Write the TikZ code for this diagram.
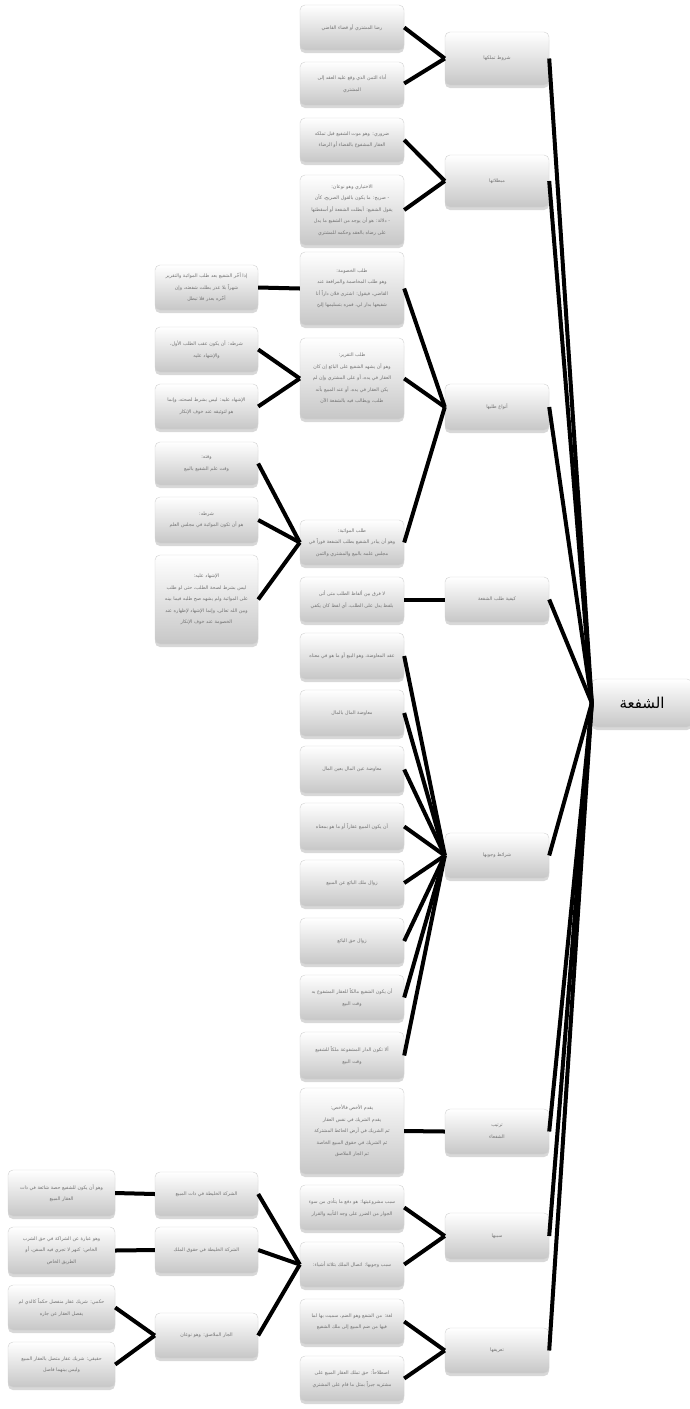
\documentclass[tikz,border=0pt]{standalone}
\usepackage{fontspec}
\usepackage{tikz}
\usetikzlibrary{shadows}
\TeXXeTstate=1
\newfontfamily\arabicfont[Script=Arabic]{DejaVu Sans}
\newcommand\arfont{\arabicfont\fontsize{4.8}{11.5}\selectfont}
\newcommand\arline[1]{\beginR #1\endR}

\begin{document}
\begin{tikzpicture}[x=1pt, y=-1pt,
    box/.style={draw=black!18, rounded corners=5pt, top color=white, bottom color=black!22,
                text=black!55, font=\arfont, align=center, text width=96pt,
                inner xsep=4pt, inner ysep=2pt,
                drop shadow={shadow xshift=0pt, shadow yshift=-3pt, fill=black!30}},
    midbox/.style={box, text width=95pt},
    farbox/.style={box, text width=99pt},
    rootbox/.style={box, text=black, font=\arabicfont\fontsize{15}{18}\selectfont,
                    text width=92pt, minimum height=48pt},
    link/.style={line width=4pt, black}]
  \path[use as bounding box, fill=white] (0,0) rectangle (689,1409);

  % root and first level
  \node[rootbox] (root) at (642,703) {\arline{الشفعة}};
  \node[box, minimum height=53pt] (tamalluk) at (497,58.5) {\arline{شروط تملكها}};
  \node[box, minimum height=52pt] (mubtilat) at (497,181) {\arline{مبطلاتها}};
  \node[box, minimum height=46pt] (anwa) at (497,407) {\arline{أنواع طلبها}};
  \node[box, minimum height=45pt] (kayfiya) at (497,599.5) {\arline{كيفية طلب الشفعة}};
  \node[box, minimum height=45pt] (sharait) at (497,855.5) {\arline{شرائط وجوبها}};
  \node[box, minimum height=45pt] (tartib) at (497,1131.5) {\arline{ترتيب}\\\arline{الشفعاء}};
  \node[box, minimum height=46pt] (sabab) at (497,1236) {\arline{سببها}};
  \node[box, minimum height=45pt] (tarif) at (497,1350.5) {\arline{تعريفها}};

  % second level
  \node[box, minimum height=45pt] (rida) at (352,27.5) {\arline{رضا المشتري أو قضاء القاضي}};
  \node[box, minimum height=43pt] (ada) at (352,83.5) {\arline{أداء الثمن الذي وقع عليه العقد إلى}\\\arline{المشتري}};
  \node[box, minimum height=44pt] (daruri) at (352,140) {\arline{ضروري: وهو موت الشفيع قبل تملكه}\\\arline{العقار المشفوع بالقضاء أو الرضاء}};
  \node[box, minimum height=70pt] (ikhtiyari) at (352,210) {\arline{الاختياري وهو نوعان:}\\\arline{- صريح: ما يكون بالقول الصريح، كأن}\\\arline{يقول الشفيع: أبطلت الشفعة أو أسقطتها}\\\arline{- دلالة: هو أن يوجد من الشفيع ما يدل}\\\arline{على رضاه بالعقد وحكمه للمشتري}};
  \node[box, minimum height=73pt] (khusuma) at (352,288.5) {\arline{طلب الخصومة:}\\\arline{وهو طلب المخاصمة والمرافعة عند}\\\arline{القاضي، فيقول: اشترى فلان داراً أنا}\\\arline{شفيعها بدار لي، فمره بتسليمها إليّ}};
  \node[box, minimum height=81pt] (taqrir) at (352,378.5) {\arline{طلب التقرير:}\\\arline{وهو أن يشهد الشفيع على البائع إن كان}\\\arline{العقار في يده، أو على المشتري وإن لم}\\\arline{يكن العقار في يده، أو عند المبيع بأنه}\\\arline{طلب، ويطالب فيه بالشفعة الآن}};
  \node[box, minimum height=45pt] (muwathaba) at (352,542.5) {\arline{طلب المواثبة:}\\\arline{وهو أن يبادر الشفيع بطلب الشفعة فوراً في}\\\arline{مجلس علمه بالبيع والمشتري والثمن}};
  \node[box, minimum height=45pt] (lafarq) at (352,599.5) {\arline{لا فرق بين ألفاظ الطلب متى أتى}\\\arline{بلفظ يدل على الطلب، أي لفظ كان يكفي}};
  \node[box, minimum height=46pt] (aqd) at (352,656) {\arline{عقد المعاوضة، وهو البيع أو ما هو في معناه}};
  \node[box, minimum height=46pt] (muawada) at (352,713) {\arline{معاوضة المال بالمال}};
  \node[box, minimum height=47pt] (ayn) at (352,769.5) {\arline{معاوضة عين المال بعين المال}};
  \node[box, minimum height=47pt] (aqar) at (352,826.5) {\arline{أن يكون المبيع عقاراً أو ما هو بمعناه}};
  \node[box, minimum height=46pt] (zawalmilk) at (352,883) {\arline{زوال ملك البائع عن المبيع}};
  \node[box, minimum height=46pt] (zawalhaqq) at (352,941) {\arline{زوال حق البائع}};
  \node[box, minimum height=45pt] (malikan) at (352,997.5) {\arline{أن يكون الشفيع مالكاً للعقار المشفوع به}\\\arline{وقت البيع}};
  \node[box, minimum height=47pt] (lamilk) at (352,1055.5) {\arline{ألا تكون الدار المشفوعة ملكاً للشفيع}\\\arline{وقت البيع}};
  \node[box, minimum height=86pt] (akhass) at (352,1131) {\arline{يقدم الأخص فالأخص:}\\\arline{يقدم الشريك في نفس العقار}\\\arline{ثم الشريك في أرض الحائط المشتركة}\\\arline{ثم الشريك في حقوق المبيع الخاصة}\\\arline{ثم الجار الملاصق}};
  \node[box, minimum height=45pt] (mashruiya) at (352,1207.5) {\arline{سبب مشروعيتها: هو دفع ما يتأذى من سوء}\\\arline{الجوار من الضرر على وجه التأبيد والقرار}};
  \node[box, minimum height=45pt] (wujub) at (352,1264.5) {\arline{سبب وجوبها: اتصال الملك بثلاثة أشياء:}};
  \node[box, minimum height=45pt] (lugha) at (352,1321.5) {\arline{لغة: من الشفع وهو الضم، سميت بها لما}\\\arline{فيها من ضم المبيع إلى ملك الشفيع}};
  \node[box, minimum height=45pt] (istilah) at (352,1378.5) {\arline{اصطلاحاً: حق تملك العقار المبيع على}\\\arline{مشتريه جبراً بمثل ما قام على المشتري}};

  % third level
  \node[midbox, minimum height=45pt] (takhir) at (206.5,287.5) {\arline{إذا أخّر الشفيع بعد طلب المواثبة والتقرير}\\\arline{شهراً بلا عذر بطلت شفعته، وإن}\\\arline{أخّره بعذر فلا تبطل}};
  \node[midbox, minimum height=45pt] (shartTaqrir) at (206.5,349.5) {\arline{شرطه: أن يكون عقب الطلب الأول،}\\\arline{والإشهاد عليه}};
  \node[midbox, minimum height=45pt] (ishhadTaqrir) at (206.5,406.5) {\arline{الإشهاد عليه: ليس بشرط لصحته، وإنما}\\\arline{هو لتوثيقه عند خوف الإنكار}};
  \node[midbox, minimum height=43pt] (waqt) at (206.5,463.5) {\arline{وقته:}\\\arline{وقت علم الشفيع بالبيع}};
  \node[midbox, minimum height=46pt] (shartMuw) at (206.5,520) {\arline{شرطه:}\\\arline{هو أن تكون المواثبة في مجلس العلم}};
  \node[midbox, minimum height=89pt] (ishhadMuw) at (206.5,599.5) {\arline{الإشهاد عليه:}\\\arline{ليس بشرط لصحة الطلب، حتى لو طلب}\\\arline{على المواثبة ولم يشهد صح طلبه فيما بينه}\\\arline{وبين الله تعالى، وإنما الإشهاد لإظهاره عند}\\\arline{الخصومة عند خوف الإنكار}};
  \node[midbox, minimum height=44pt] (khalitDhat) at (206.5,1194) {\arline{الشركة الخليطة في ذات المبيع}};
  \node[midbox, minimum height=46pt] (khalitHuquq) at (206.5,1250) {\arline{الشركة الخليطة في حقوق الملك}};
  \node[midbox, minimum height=45pt] (jar) at (206.5,1335.5) {\arline{الجار الملاصق: وهو نوعان}};

  % fourth level
  \node[farbox, minimum height=46pt] (hissa) at (61.5,1193) {\arline{وهو أن يكون للشفيع حصة شائعة في ذات}\\\arline{العقار المبيع}};
  \node[farbox, minimum height=47pt] (shirb) at (61.5,1250.5) {\arline{وهو عبارة عن الشراكة في حق الشرب}\\\arline{الخاص: كنهر لا تجري فيه السفن، أو}\\\arline{الطريق الخاص}};
  \node[farbox, minimum height=45pt] (hukmi) at (61.5,1307.5) {\arline{حكمي: شريك عقار منفصل حكماً كالذي لم}\\\arline{يفصل العقار عن جاره}};
  \node[farbox, minimum height=45pt] (haqiqi) at (61.5,1364.5) {\arline{حقيقي: شريك عقار متصل بالعقار المبيع}\\\arline{وليس بينهما فاصل}};

  % connectors
  \foreach \a in {tamalluk, mubtilat, anwa, kayfiya, sharait, tartib, sabab, tarif}
    \draw[link] (\a.east) -- (root.west);
  \foreach \a/\b in {rida/tamalluk, ada/tamalluk, daruri/mubtilat, ikhtiyari/mubtilat,
                     khusuma/anwa, taqrir/anwa, muwathaba/anwa, lafarq/kayfiya,
                     aqd/sharait, muawada/sharait, ayn/sharait, aqar/sharait,
                     zawalmilk/sharait, zawalhaqq/sharait, malikan/sharait, lamilk/sharait,
                     akhass/tartib, mashruiya/sabab, wujub/sabab, lugha/tarif, istilah/tarif,
                     takhir/khusuma, shartTaqrir/taqrir, ishhadTaqrir/taqrir,
                     waqt/muwathaba, shartMuw/muwathaba, ishhadMuw/muwathaba,
                     khalitDhat/wujub, khalitHuquq/wujub, jar/wujub,
                     hissa/khalitDhat, shirb/khalitHuquq, hukmi/jar, haqiqi/jar}
    \draw[link] (\a.east) -- (\b.west);
\end{tikzpicture}
\end{document}
